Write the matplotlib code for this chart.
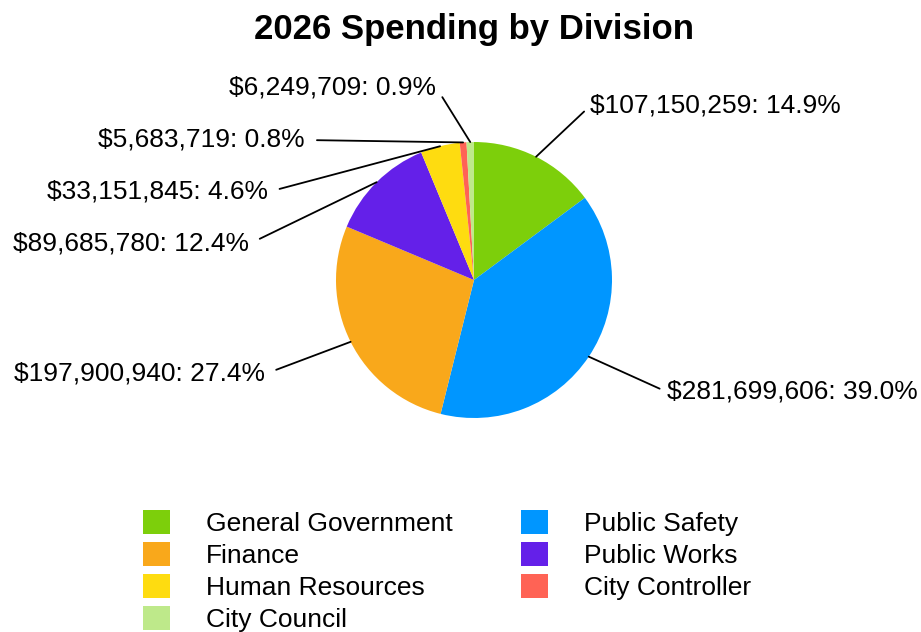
import numpy as np
import matplotlib
matplotlib.use('Agg')
import matplotlib.pyplot as plt

plt.rcParams['font.family'] = 'Liberation Sans'

divisions = ['General Government', 'Public Safety', 'Finance', 'Public Works',
             'Human Resources', 'City Controller', 'City Council']
spending = [107150259, 281699606, 197900940, 89685780, 33151845, 5683719, 6249709]
colors = ['#7DCF0B', '#0096FF', '#F9A81B', '#6420E9', '#FEDC10', '#FF6355', '#BEE98A']

# where each value label sits (figure pixels, y up) and which side its text hangs on
label_pos = [(590, 526), (667, 240), (265, 258), (249, 388), (268, 440), (305, 492), (436, 545)]
label_side = ['left', 'left', 'right', 'right', 'right', 'right', 'right']

W, H = 921, 632
fig = plt.figure(figsize=(W / 100, H / 100), dpi=100)

cx, cy, r = 474, 352, 138
ax = fig.add_axes([(cx - r) / W, (cy - r) / H, 2 * r / W, 2 * r / H])
wedges, _ = ax.pie(spending, colors=colors, startangle=90, counterclock=False,
                   wedgeprops=dict(linewidth=0))
ax.set_xlim(-1, 1)
ax.set_ylim(-1, 1)

total = sum(spending)
for w, v, (tx, ty), side in zip(wedges, spending, label_pos, label_side):
    ang = np.deg2rad((w.theta1 + w.theta2) / 2)
    ax.annotate(f'${v:,}: {v / total * 100:.1f}%',
                xy=(np.cos(ang), np.sin(ang)), xytext=(tx, ty),
                textcoords='figure pixels', ha=side, va='center', fontsize=19,
                annotation_clip=False,
                arrowprops=dict(arrowstyle='-', color='black', lw=1.3,
                                patchA=None, shrinkA=5.8 if side == 'left' else 8.6,
                                shrinkB=0, relpos=(0 if side == 'left' else 1, 0.5)))

fig.text(474 / W, 1 - 30 / H, '2026 Spending by Division', ha='center', va='center',
         fontsize=25, fontweight='bold')

# legend filled row by row
order = [0, 2, 4, 6, 1, 3, 5]
fig.legend([wedges[i] for i in order], [divisions[i] for i in order], ncol=2,
           loc='upper left', bbox_to_anchor=(143 / W, 1 - 510 / H), frameon=False,
           borderpad=0, borderaxespad=0, handlelength=1.02, handleheight=1.02,
           handletextpad=1.36, columnspacing=2.6, labelspacing=0.227, fontsize=19)

fig.savefig('out.png', dpi=100)
